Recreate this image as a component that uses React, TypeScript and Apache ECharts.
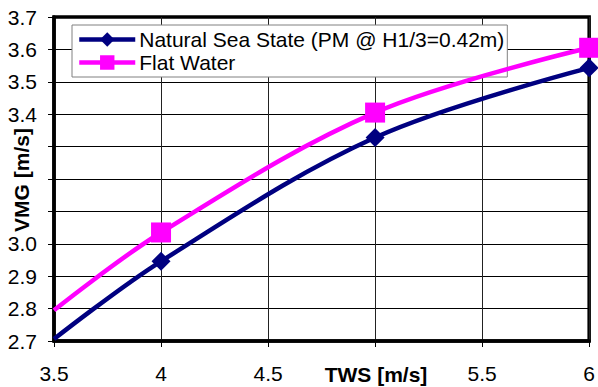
import React, { useEffect, useRef } from "react";
import * as echarts from "echarts";

// True wind speed [m/s]
const tws = [3.5, 4, 5, 6];
// VMG [m/s] in a natural sea state and in flat water
const vmgSeaState = [2.706, 2.946, 3.328, 3.543];
const vmgFlatWater = [2.795, 3.035, 3.405, 3.605];

// Tick labels that sit under the axis titles are left blank
const hiddenXLabels = [5];
const hiddenYLabels = [3.1, 3.2, 3.3];

const seaStateName = "Natural Sea State (PM @ H1/3=0.42m)";
const flatWaterName = "Flat Water";

const FONT = "'Liberation Sans', Arial, Helvetica, sans-serif";

// The 3.5 m/s point only carries the curve to the axis; it has no marker.
const toPoints = (ys: number[]) =>
  ys.map((y, i) =>
    i === 0 ? { value: [tws[i], y], symbol: "none" } : { value: [tws[i], y] }
  );

const isHidden = (list: number[], v: number) =>
  list.some((h) => Math.abs(h - v) < 1e-6);

export default function App() {
  const ref = useRef<HTMLDivElement>(null);

  useEffect(() => {
    document.body.style.margin = "0";
    if (!ref.current) return;
    const chart = echarts.init(ref.current, undefined, { renderer: "svg" });

    chart.setOption({
      animation: false,
      backgroundColor: "#fff",
      textStyle: { fontFamily: FONT },
      grid: {
        left: 54,
        right: 8.5,
        top: 17,
        bottom: 46,
        show: true,
        borderColor: "#000",
        borderWidth: 3.5,
        backgroundColor: "transparent",
      },
      legend: {
        left: 72,
        top: 25,
        orient: "vertical",
        padding: [4, 3, 4, 5],
        itemGap: 2,
        itemWidth: 56,
        itemHeight: 18,
        backgroundColor: "#fff",
        borderColor: "#808080",
        borderWidth: 1,
        borderRadius: 0,
        selectedMode: false,
        lineStyle: { width: 4.5 },
        textStyle: {
          fontFamily: FONT,
          fontSize: 21,
          color: "#000",
          padding: [0, 0, 0, -1],
          lineHeight: 18,
        },
        data: [
          { name: seaStateName, lineStyle: { width: 4.5, color: "#000080" } },
          { name: flatWaterName, lineStyle: { width: 4.5, color: "#FF00FF" } },
        ],
      },
      xAxis: {
        type: "value",
        min: 3.5,
        max: 6,
        interval: 0.5,
        axisLine: { show: true, lineStyle: { color: "#000", width: 3.5 } },
        axisTick: { show: true, length: 6, lineStyle: { color: "#000", width: 1 } },
        axisLabel: {
          margin: 22,
          fontSize: 21,
          color: "#000",
          fontFamily: FONT,
          showMaxLabel: true,
          showMinLabel: true,
          formatter: (v: number) => (isHidden(hiddenXLabels, v) ? "" : String(v)),
        },
        splitLine: { show: true, lineStyle: { color: "#222", width: 1 } },
      },
      yAxis: {
        type: "value",
        min: 2.7,
        max: 3.7,
        interval: 0.1,
        axisLine: { show: true, lineStyle: { color: "#000", width: 3.5 } },
        axisTick: { show: true, length: 6, lineStyle: { color: "#000", width: 1 } },
        axisLabel: {
          margin: 17,
          fontSize: 21,
          color: "#000",
          fontFamily: FONT,
          formatter: (v: number) => (isHidden(hiddenYLabels, v) ? "" : v.toFixed(1)),
        },
        splitLine: { show: true, lineStyle: { color: "#000", width: 1 } },
      },
      series: [
        {
          name: seaStateName,
          type: "line",
          smooth: 0.35,
          data: toPoints(vmgSeaState),
          symbol: "diamond",
          symbolSize: 19,
          lineStyle: { color: "#000080", width: 4.5 },
          itemStyle: { color: "#000080" },
          z: 3,
        },
        {
          name: flatWaterName,
          type: "line",
          smooth: 0.35,
          data: toPoints(vmgFlatWater),
          symbol: "rect",
          symbolSize: 20,
          lineStyle: { color: "#FF00FF", width: 4.5 },
          itemStyle: { color: "#FF00FF" },
          z: 4,
        },
      ],
      graphic: [
        {
          type: "text",
          z: 100,
          x: 21,
          y: 180,
          rotation: Math.PI / 2,
          style: {
            text: "VMG [m/s]",
            font: `bold 21px ${FONT}`,
            fill: "#000",
            align: "center",
            verticalAlign: "middle",
          },
        },
        {
          type: "text",
          z: 100,
          x: 376,
          y: 374,
          style: {
            text: "TWS [m/s]",
            font: `bold 21px ${FONT}`,
            fill: "#000",
            align: "center",
            verticalAlign: "middle",
          },
        },
      ],
    });

    return () => chart.dispose();
  }, []);

  return <div ref={ref} style={{ width: 598, height: 387 }} />;
}
